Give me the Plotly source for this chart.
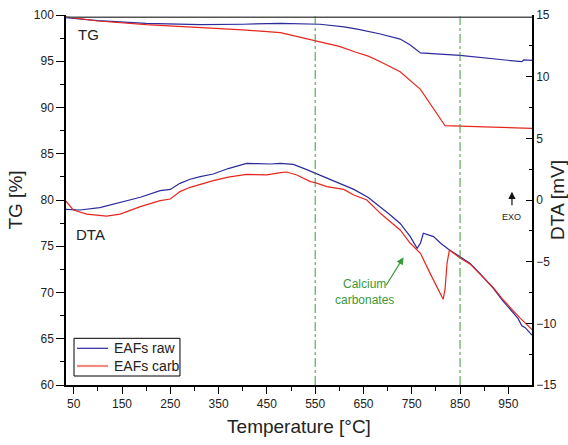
import plotly.graph_objects as go

# ---- data ----
tg_raw_T = [34, 100, 200, 312, 400, 478, 560, 581, 610, 640, 685, 726, 747, 768, 850, 978, 982, 999]
tg_raw = [99.7, 99.4, 99.1, 98.95, 99.0, 99.1, 99.0, 98.9, 98.72, 98.45, 97.95, 97.4, 96.76, 95.9, 95.64, 94.95, 95.14, 95.1]

tg_carb_T = [34, 100, 200, 300, 400, 478, 550, 600, 633, 660, 685, 726, 768, 795, 819, 900, 999]
tg_carb = [99.8, 99.35, 98.95, 98.7, 98.4, 98.1, 97.2, 96.6, 96.0, 95.55, 94.95, 93.87, 91.96, 89.9, 88.03, 87.9, 87.75]

dta_raw_T = [34, 63, 104, 146, 188, 229, 250, 270, 291, 312, 339, 370, 408, 430, 457, 478, 505, 530, 550,
             581, 610, 630, 660, 685, 705, 726, 747, 761, 768, 774, 785, 795, 810, 826, 850, 871, 892, 919,
             937, 955, 970, 978, 985, 999]
dta_raw = [-0.76, -0.81, -0.62, -0.22, 0.22, 0.76, 0.86, 1.35, 1.68, 1.9, 2.11, 2.55, 2.97, 2.95, 2.92, 2.97,
           2.89, 2.5, 2.16, 1.68, 1.2, 0.86, 0.2, -0.54, -1.2, -1.9, -2.97, -3.92, -3.5, -2.7, -2.85, -2.97,
           -3.5, -4.0, -4.6, -5.14, -6.0, -7.16, -8.1, -8.9, -9.6, -10.2, -10.35, -10.95]

dta_carb_T = [34, 49, 77, 118, 146, 188, 229, 250, 270, 291, 339, 370, 408, 450, 478, 491, 512, 540, 550,
              574, 609, 630, 657, 685, 705, 726, 747, 768, 788, 805, 815, 819, 823, 828, 850, 871, 892, 919,
              937, 955, 975, 999]
dta_carb = [-0.1, -0.81, -1.14, -1.3, -1.14, -0.54, -0.05, 0.08, 0.68, 1.03, 1.57, 1.85, 2.08, 2.03, 2.22,
            2.27, 2.03, 1.49, 1.41, 1.08, 0.86, 0.41, 0.0, -1.08, -1.75, -2.43, -3.51, -4.32, -5.95, -7.3,
            -8.05, -7.2, -5.13, -4.05, -4.7, -5.2, -6.0, -7.1, -8.0, -8.8, -9.6, -10.5]

x_ticks = [50, 150, 250, 350, 450, 550, 650, 750, 850, 950]
marker_T = [550, 850]
legend_names = ["EAFs raw", "EAFs carb"]

BLUE = "#2b2b9c"
RED = "#e8261e"
GREEN = "#3a9a3a"
FONT = "Liberation Sans, Arial, sans-serif"

fig = go.Figure()
fig.add_trace(go.Scatter(x=tg_raw_T, y=tg_raw, mode="lines", line=dict(color=BLUE, width=1.2),
                         name=legend_names[0], showlegend=False, yaxis="y"))
fig.add_trace(go.Scatter(x=tg_carb_T, y=tg_carb, mode="lines", line=dict(color=RED, width=1.2),
                         name=legend_names[1], showlegend=False, yaxis="y"))
fig.add_trace(go.Scatter(x=dta_raw_T, y=dta_raw, mode="lines", line=dict(color=BLUE, width=1.2),
                         name=legend_names[0], showlegend=False, yaxis="y2"))
fig.add_trace(go.Scatter(x=dta_carb_T, y=dta_carb, mode="lines", line=dict(color=RED, width=1.2),
                         name=legend_names[1], showlegend=False, yaxis="y2"))

shapes = []
for t in marker_T:
    shapes.append(dict(type="line", xref="x", yref="paper", x0=t, x1=t, y0=0, y1=1,
                       line=dict(color=GREEN, width=1, dash="dashdot")))
shapes.append(dict(type="line", xref="paper", yref="y", x0=0, x1=1, y0=99.75, y1=99.75,
                   line=dict(color="#555555", width=1.5)))

# custom legend box (paper coordinates)
shapes.append(dict(type="rect", xref="paper", yref="paper", x0=0.0172, x1=0.2446, y0=0.0243, y1=0.1262,
                   line=dict(color="black", width=1), fillcolor="white"))
shapes.append(dict(type="line", xref="paper", yref="paper", x0=0.0236, x1=0.0901, y0=0.0992, y1=0.0992,
                   line=dict(color=BLUE, width=1.2)))
shapes.append(dict(type="line", xref="paper", yref="paper", x0=0.0236, x1=0.0901, y0=0.0514, y1=0.0514,
                   line=dict(color="#f08a80", width=2.2)))

annotations = [
    dict(x=0.0987, y=0.0992, xref="paper", yref="paper", text=legend_names[0], showarrow=False,
         xanchor="left", yanchor="middle", font=dict(size=14, color="#222222", family=FONT)),
    dict(x=0.0987, y=0.0514, xref="paper", yref="paper", text=legend_names[1], showarrow=False,
         xanchor="left", yanchor="middle", font=dict(size=14, color="#222222", family=FONT)),
    dict(x=54.7, y=97.91, xref="x", yref="y", text="TG", showarrow=False, xanchor="left",
         font=dict(size=15, color="#222222", family=FONT)),
    dict(x=50.6, y=76.29, xref="x", yref="y", text="DTA", showarrow=False, xanchor="left",
         font=dict(size=15, color="#222222", family=FONT)),
    dict(x=651.5, y=-7.46, xref="x", yref="y2", text="Calcium<br>carbonates", showarrow=False,
         xanchor="center", font=dict(size=12, color=GREEN, family=FONT)),
    dict(x=733, y=-4.65, xref="x", yref="y2", ax=695, ay=-7.03, axref="x", ayref="y2", text="",
         showarrow=True, arrowhead=2, arrowsize=1.2, arrowwidth=1.2, arrowcolor=GREEN),
    dict(x=957.5, y=0.67, xref="x", yref="y2", ax=957.5, ay=-0.54, axref="x", ayref="y2", text="",
         showarrow=True, arrowhead=2, arrowsize=1.2, arrowwidth=1.2, arrowcolor="#111111"),
    dict(x=957.5, y=-1.35, xref="x", yref="y2", text="EXO", showarrow=False,
         font=dict(size=9, color="#222222", family=FONT)),
]

fig.update_layout(
    width=568, height=445,
    margin=dict(l=66, r=36, t=15, b=60),
    paper_bgcolor="white", plot_bgcolor="white",
    font=dict(family=FONT, color="#222222"),
    shapes=shapes, annotations=annotations, showlegend=False,
    xaxis=dict(range=[34, 999], tickvals=x_ticks, ticks="outside", ticklen=7, tickwidth=1,
               tickcolor="black", showline=True, linecolor="black", linewidth=1.5, automargin=False,
               showgrid=False, zeroline=False, tickfont=dict(size=12),
               minor=dict(tickvals=[100, 200, 300, 400, 500, 600, 700, 800, 900], ticks="outside",
                          ticklen=4, tickcolor="black"),
               title=dict(text="Temperature [°C]", font=dict(size=19), standoff=10)),
    yaxis=dict(range=[60, 100], dtick=5, tick0=60, ticks="outside", ticklen=8, tickwidth=1,
               tickcolor="black", showline=True, linecolor="black", linewidth=1.5, automargin=False,
               showgrid=False, zeroline=False, tickfont=dict(size=12),
               minor=dict(dtick=2.5, tick0=60, ticks="outside", ticklen=4, tickcolor="black"),
               title=dict(text="TG [%]", font=dict(size=19), standoff=6)),
    yaxis2=dict(range=[-15, 15], dtick=5, tick0=-15, overlaying="y", side="right", ticks="inside",
                ticklen=6, tickwidth=1, tickcolor="black", showline=True, linecolor="black",
                linewidth=1.5, showgrid=False, zeroline=False, tickfont=dict(size=12), automargin=False,
                ticklabelstandoff=0,
                minor=dict(dtick=2.5, tick0=-15, ticks="inside", ticklen=3, tickcolor="black"),
                title=dict(text="DTA [mV]", font=dict(size=19), standoff=2)),
)

fig.write_html("out.html")
